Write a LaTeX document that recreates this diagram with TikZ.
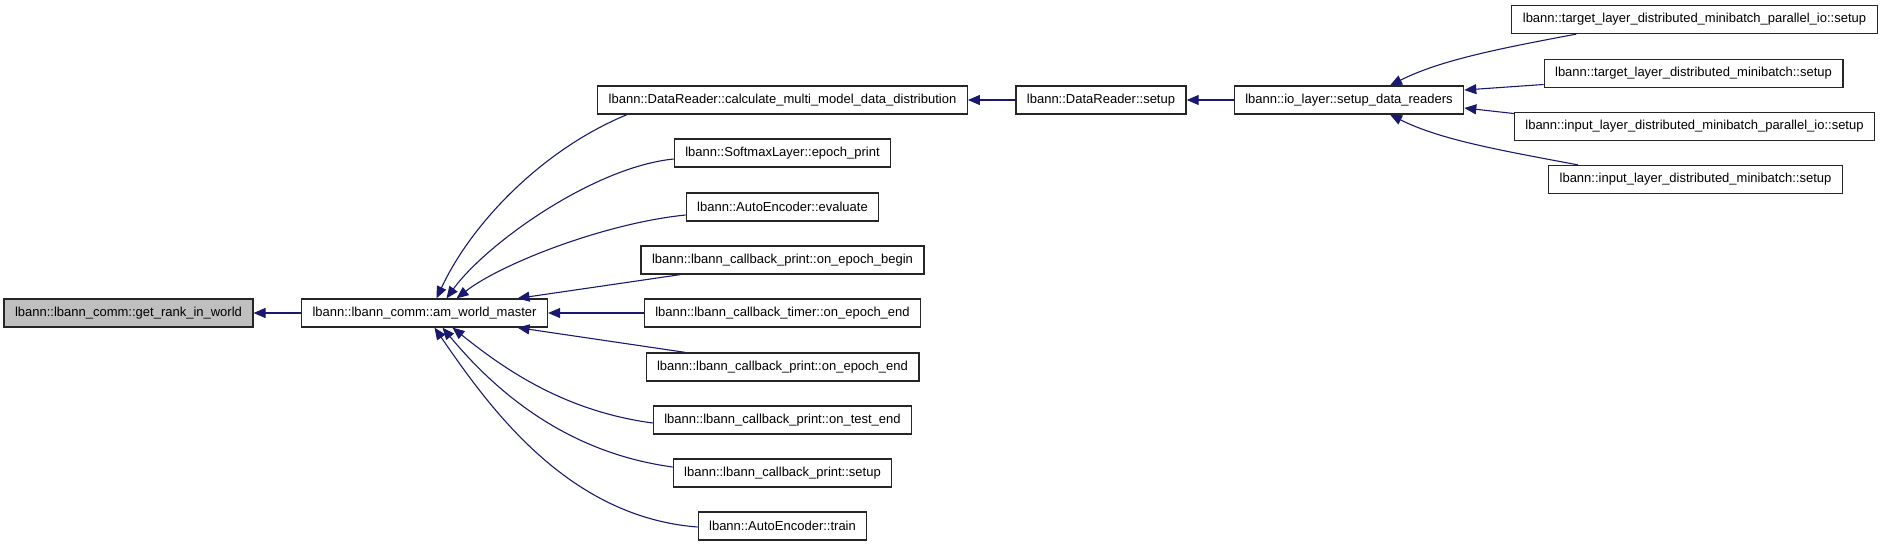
\documentclass[tikz,border=0pt]{standalone}
\usepackage{fontspec}
\setmainfont{Liberation Sans}
\usepackage{xcolor}
\usepackage{tikz}
\usetikzlibrary{arrows.meta,positioning}
\definecolor{edgeblue}{RGB}{25,25,112}

\begin{document}
\begin{tikzpicture}[x=1pt,y=-1pt,
  fn/.style={rectangle,draw=black!85,line width=1.2pt,font=\fontsize{13}{15}\selectfont,inner xsep=11pt,inner ysep=0pt,minimum height=28pt},
  cur/.style={fn,fill=black!25},
  call/.style={draw=edgeblue,line width=1.1pt,-{Triangle[length=12pt,width=10pt]}},
]
\useasboundingbox (0,0) rectangle (1883,547);

\node [cur] (rank) at (128.5,313) {lbann::lbann\_comm::get\_rank\_in\_world};
\node [fn] (amw) at (424.5,313) {lbann::lbann\_comm::am\_world\_master};

\node [fn] (calc) at (782.5,100) {lbann::DataReader::calculate\_multi\_model\_data\_distribution};
\node [fn] (soft) at (782.5,153) {lbann::SoftmaxLayer::epoch\_print};
\node [fn] (eval) at (782.5,207) {lbann::AutoEncoder::evaluate};
\node [fn] (pbegin) at (782.5,260) {lbann::lbann\_callback\_print::on\_epoch\_begin};
\node [fn] (tend) at (782.5,313) {lbann::lbann\_callback\_timer::on\_epoch\_end};
\node [fn] (pend) at (782.5,367) {lbann::lbann\_callback\_print::on\_epoch\_end};
\node [fn] (ptest) at (782.5,420) {lbann::lbann\_callback\_print::on\_test\_end};
\node [fn] (psetup) at (782.5,473) {lbann::lbann\_callback\_print::setup};
\node [fn] (train) at (782.5,526) {lbann::AutoEncoder::train};

\node [fn] (drsetup) at (1101,100) {lbann::DataReader::setup};
\node [fn] (io) at (1349,100) {lbann::io\_layer::setup\_data\_readers};

\node [fn] (tpar) at (1694.5,19.5) {lbann::target\_layer\_distributed\_minibatch\_parallel\_io::setup};
\node [fn] (tdm) at (1693.5,73.5) {lbann::target\_layer\_distributed\_minibatch::setup};
\node [fn] (ipar) at (1694.5,126.5) {lbann::input\_layer\_distributed\_minibatch\_parallel\_io::setup};
\node [fn] (idm) at (1695.5,179.5) {lbann::input\_layer\_distributed\_minibatch::setup};

\draw [call] (amw) -- (rank);
\draw [call] (drsetup) -- (calc);
\draw [call] (io) -- (drsetup);

\draw [call] ([xshift=30pt]calc.south west) .. controls +(-85,35) and +(35,-75) .. ([xshift=12pt]amw.north);
\draw [call] ([yshift=-6pt]soft.west) .. controls +(-80,8) and +(40,-55) .. ([xshift=22pt]amw.north);
\draw [call] ([yshift=-8pt]eval.west) .. controls +(-80,8) and +(45,-35) .. ([xshift=32pt]amw.north);
\draw [call] ([xshift=40pt]pbegin.south west) -- ([xshift=93pt]amw.north);
\draw [call] (tend) -- (amw);
\draw [call] ([xshift=40pt]pend.north west) -- ([xshift=93pt]amw.south);
\draw [call] ([yshift=-3pt]ptest.west) .. controls +(-90,-12) and +(50,40) .. ([xshift=28pt]amw.south);
\draw [call] ([yshift=6pt]psetup.west) .. controls +(-110,-15) and +(50,60) .. ([xshift=18pt]amw.south);
\draw [call] ([yshift=-1pt]train.west) .. controls +(-130,-10) and +(55,80) .. ([xshift=10pt]amw.south);

\draw [call] ([xshift=65pt]tpar.south west) .. controls +(-80,15) and +(50,-25) .. ([xshift=41pt]io.north);
\draw [call] ([yshift=-11pt]tdm.west) -- ([yshift=10pt]io.east);
\draw [call] ([yshift=13pt]ipar.west) -- ([yshift=-8pt]io.east);
\draw [call] ([xshift=30pt]idm.north west) .. controls +(-80,-15) and +(50,25) .. ([xshift=41pt]io.south);
\end{tikzpicture}
\end{document}
